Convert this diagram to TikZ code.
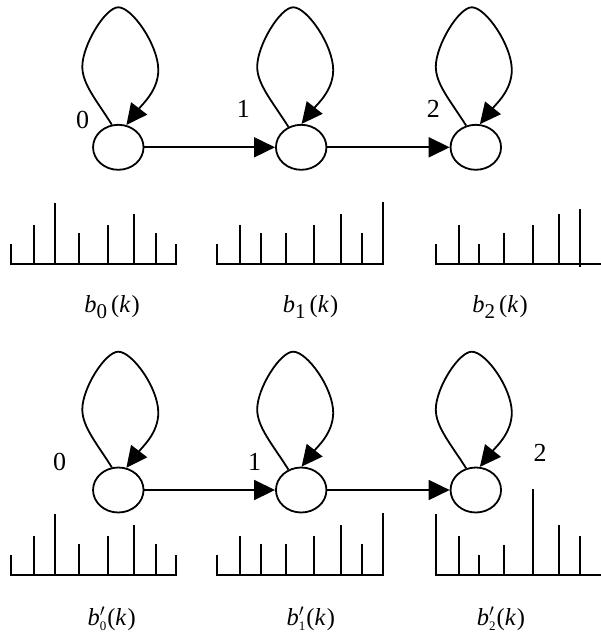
\documentclass[tikz,border=0pt]{standalone}
\usepackage{fontspec}
\setmainfont{Liberation Serif}
\usetikzlibrary{shapes.geometric,arrows.meta,calc}
\newcommand\selfloop[5]{% node, xshift, start angle, end angle, top
  \draw[edge] (#1.#3) .. controls ($(#1)+(#2-21,-46)$) and ($(#1)+(#2-36,-63)$) ..
    ($(#1)+(#2-36,-80.6)$) .. controls ($(#1)+(#2-36,-102)$) and ($(#1)+(#2-13,#5)$) ..
    ($(#1)+(#2,#5)$) .. controls ($(#1)+(#2+14,#5)$) and ($(#1)+(#2+40,-102)$) ..
    ($(#1)+(#2+40,-77.3)$) .. controls ($(#1)+(#2+40,-57)$) and ($(#1)+(#2+24,-43)$) .. (#1.#4);}
\newcommand\barchart[4]{% x0, base, x end, list dx/h
  \draw[bar,line cap=rect] (#1,#2) -- (#3,#2);
  \foreach \dx/\h in {#4} \draw[bar] (#1+\dx,#2) -- ++(0,-\h);}
\newcommand\blab[1]{\textit{b}\raisebox{-6pt}{\fontsize{21}{21}\selectfont #1}\,(\textit{k}\kern1pt)}
\newcommand\bplab[1]{\textit{b}\rlap{$^{\prime}$}\raisebox{-5pt}{\fontsize{13}{13}\selectfont #1}\kern1pt(\textit{k}\kern1pt)}
\begin{document}
\begin{tikzpicture}[x=1pt,y=-1pt,
  state/.style={ellipse,draw,line width=1.8pt,minimum width=50.5pt,minimum height=45pt,inner sep=0pt},
  edge/.style={line width=1.8pt,-{Triangle[length=21pt,width=20pt]}},
  bar/.style={line width=2pt},
  num/.style={font=\fontsize{26}{26}\selectfont,inner sep=0pt},
  lab/.style={font=\fontsize{24.5}{28}\selectfont,inner sep=0pt,anchor=base}]
\useasboundingbox (0,0) rectangle (600,634);
% top graph
\node[state] (a0) at (118.3,147.3) {};
\node[state] (a1) at (301.2,147.3) {};
\node[state] (a2) at (475.8,147.3) {};
\draw[edge] (a0) -- (a1);
\draw[edge] (a1) -- (a2);
\selfloop{a0}{0}{106}{70}{-140}
\selfloop{a1}{-8}{122}{89}{-140}
\selfloop{a2}{-4}{114}{80}{-140}
\node[num] (ta0) at (82.7,119.7) {0};
\node[num] (ta1) at (243.3,108.7) {1};
\node[num] (ta2) at (433.3,108.7) {2};
% top charts
\barchart{11}{264}{176.3}{0/19.7,23/39,43.7/60.7,68.3/30.7,97/39,123.3/50,144.5/30.7,165.3/19.7}
\barchart{217.3}{264}{382.6}{0/19.7,23/39,43.7/30.7,68.3/30.7,97/39,123.3/50,144.5/30.7,165.3/62.3}
\barchart{435.7}{264}{600}{0/19.7,23/39,43.7/19.7,68.3/30.7,97/39,123.3/50}
\draw[bar] (580.3,266.7) -- (580.3,209.3);
\node[lab] (la0) at (112,312) {\blab{0}};
\node[lab] (la1) at (310.5,312) {\blab{1}};
\node[lab] (la2) at (500,312) {\blab{2}};
% bottom graph
\node[state] (c0) at (118.3,490) {};
\node[state] (c1) at (301.2,490) {};
\node[state] (c2) at (475.8,490) {};
\draw[edge] (c0) -- (c1);
\draw[edge] (c1) -- (c2);
\selfloop{c0}{0}{106}{70}{-138.3}
\selfloop{c1}{-8}{122}{89}{-138.3}
\selfloop{c2}{-4}{114}{80}{-138.3}
\node[num] (tc0) at (59.7,461.7) {0};
\node[num] (tc1) at (254.7,461.7) {1};
\node[num] (tc2) at (540,452.8) {2};
% bottom charts
\barchart{11}{575}{176.3}{0/19.7,23/39,43.7/60.7,68.3/30.7,97/39,123.3/50,144.5/30.7,165.3/19.7}
\barchart{217.3}{575}{382.6}{0/19.7,23/39,43.7/30.7,68.3/30.7,97/39,123.3/50,144.5/30.7,165.3/62.3}
\barchart{435.7}{575}{600}{0/61,23/39.3,43.7/19.7,68.3/30.3,97/86,123.3/50,144.5/39.3}
\node[lab] (lc0) at (111.7,625.7) {\bplab{0}};
\node[lab] (lc1) at (310.8,625.7) {\bplab{1}};
\node[lab] (lc2) at (501,625.7) {\bplab{2}};
\end{tikzpicture}
\end{document}
